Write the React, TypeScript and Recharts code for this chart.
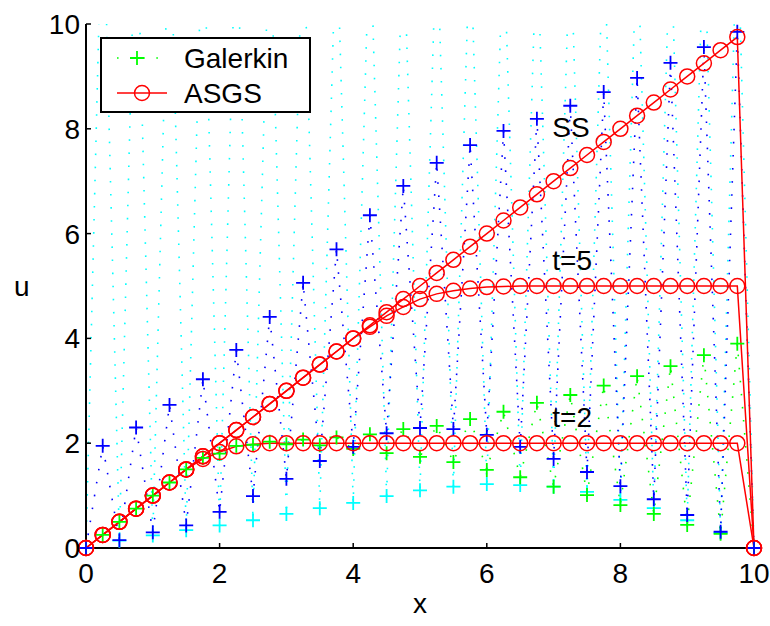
import React from "react";
import { LineChart, Line, XAxis, YAxis, ReferenceDot } from "recharts";

// node positions (h = 0.25)
const xNodes = [
  0, 0.25, 0.5, 0.75, 1, 1.25, 1.5, 1.75, 2, 2.25, 2.5, 2.75, 3, 3.25, 3.5, 3.75, 4, 4.25, 4.5, 4.75, 5,
  5.25, 5.5, 5.75, 6, 6.25, 6.5, 6.75, 7, 7.25, 7.5, 7.75, 8, 8.25, 8.5, 8.75, 9, 9.25, 9.5, 9.75, 10,
];

// Galerkin, t=2 (green)
const galerkinT2 = [
  0, 0.25, 0.5, 0.75, 1, 1.25, 1.5, 1.72, 1.8, 1.95, 1.97, 2.03, 1.98, 2.07, 1.96, 2.11, 1.89, 2.17, 1.81, 2.27, 1.74,
  2.33, 1.64, 2.46, 1.49, 2.6, 1.35, 2.77, 1.17, 2.92, 1.01, 3.1, 0.82, 3.28, 0.65, 3.47, 0.44, 3.68, 0.27, 3.9, 0,
];

// Galerkin, t=5 (cyan) - odd nodes lie above the axes
const galerkinT5 = [
  0, 13, 0.14, 12.8, 0.24, 12.6, 0.34, 12.4, 0.43, 12.3, 0.53, 12.2, 0.65, 12.1, 0.76, 12, 0.86, 12, 0.99, 11.9, 1.1,
  11.9, 1.17, 11.8, 1.22, 11.8, 1.2, 11.8, 1.17, 11.8, 1.07, 11.9, 0.92, 11.9, 0.76, 12, 0.53, 12.1, 0.29, 12.2, 0,
];

// Galerkin, steady state (blue)
const galerkinSS = [
  0, 1.95, 0.15, 2.3, 0.3, 2.73, 0.43, 3.22, 0.69, 3.78, 0.99, 4.41, 1.32, 5.06, 1.66, 5.7, 1.93, 6.35, 2.19, 6.91, 2.29,
  7.35, 2.27, 7.69, 2.16, 7.96, 1.93, 8.19, 1.7, 8.44, 1.45, 8.7, 1.18, 8.97, 0.93, 9.26, 0.63, 9.56, 0.31, 9.85, 0,
];

const asgsT2 = [
  0, 0.25, 0.5, 0.75, 1, 1.25, 1.5, 1.7, 1.83, 1.94, 1.98, 2, 2, 2, 2, 2, 2, 2, 2, 2, 2,
  2, 2, 2, 2, 2, 2, 2, 2, 2, 2, 2, 2, 2, 2, 2, 2, 2, 2, 2, 0,
];

const asgsT5 = [
  0, 0.25, 0.5, 0.75, 1, 1.25, 1.5, 1.75, 2, 2.25, 2.5, 2.75, 3, 3.25, 3.5, 3.75, 4, 4.22, 4.43, 4.6, 4.75,
  4.85, 4.91, 4.95, 4.98, 4.99, 5, 5, 5, 5, 5, 5, 5, 5, 5, 5, 5, 5, 5, 5, 0,
];

const asgsSS = [
  0, 0.25, 0.5, 0.75, 1, 1.25, 1.5, 1.75, 2, 2.25, 2.5, 2.75, 3, 3.25, 3.5, 3.75, 4, 4.25, 4.5, 4.75, 5,
  5.25, 5.5, 5.75, 6, 6.25, 6.5, 6.75, 7, 7.25, 7.5, 7.75, 8, 8.25, 8.5, 8.75, 9, 9.25, 9.5, 9.75, 0,
];

const xTicks = [0, 2, 4, 6, 8, 10];
const yTicks = [0, 2, 4, 6, 8, 10];
const legendNames = ["Galerkin", "ASGS"];
const curveLabels = [
  { text: "SS", x: 6.98, y: 7.84 },
  { text: "t=5", x: 6.98, y: 5.3 },
  { text: "t=2", x: 6.98, y: 2.31 },
];

const rows = xNodes.map((x, i) => ({
  x,
  g2: galerkinT2[i],
  g5: galerkinT5[i],
  gs: galerkinSS[i],
  a2: asgsT2[i],
  a5: asgsT5[i],
  as: asgsSS[i],
}));

const FONT = "'Liberation Sans', Arial, Helvetica, sans-serif";
const tickStyle = { fill: "#000", fontSize: 28, fontFamily: FONT };
const DOTTED = "1.6 11.5";

const plusDot = (color: string) => (props: any) => {
  const { cx, cy, index } = props;
  if (cx == null || cy == null) return <g key={index} />;
  return (
    <path
      key={index}
      d={`M${cx - 7},${cy}H${cx + 7}M${cx},${cy - 7}V${cy + 7}`}
      stroke={color}
      strokeWidth={1.8}
      fill="none"
      strokeDasharray="none"
    />
  );
};

const circleDot = { r: 7.5, stroke: "#ff0000", strokeWidth: 1.5, fill: "none" };

export default function App() {
  return (
    <div style={{ position: "absolute", left: 0, top: 0, width: 770, height: 626, background: "#fff" }}>
      <LineChart width={770} height={626} data={rows} margin={{ top: 24, right: 16, bottom: 0, left: 0 }}>
        <XAxis
          dataKey="x"
          type="number"
          domain={[0, 10]}
          ticks={xTicks}
          height={78}
          tickSize={-5}
          tickMargin={20}
          tick={tickStyle}
          axisLine={{ stroke: "#000", strokeWidth: 2 }}
          tickLine={{ stroke: "#000", strokeWidth: 1.5 }}
          label={{ value: "x", position: "insideBottom", offset: 13, style: { fill: "#000", fontSize: 28, fontFamily: FONT } }}
        />
        <XAxis
          xAxisId="top"
          dataKey="x"
          type="number"
          orientation="top"
          domain={[0, 10]}
          ticks={xTicks}
          height={0}
          tickSize={-5}
          tick={false}
          axisLine={{ stroke: "#000", strokeWidth: 2 }}
          tickLine={{ stroke: "#000", strokeWidth: 1.5 }}
        />
        <YAxis
          type="number"
          domain={[0, 10]}
          ticks={yTicks}
          width={86}
          tickSize={-5}
          tickMargin={11}
          tick={tickStyle}
          axisLine={{ stroke: "#000", strokeWidth: 2 }}
          tickLine={{ stroke: "#000", strokeWidth: 1.5 }}
          label={{ value: "u", position: "insideLeft", offset: 14, style: { fill: "#000", fontSize: 28, fontFamily: FONT } }}
        />
        <YAxis
          yAxisId="right"
          orientation="right"
          type="number"
          domain={[0, 10]}
          ticks={yTicks}
          width={0}
          tickSize={-5}
          tick={false}
          axisLine={{ stroke: "#000", strokeWidth: 2 }}
          tickLine={{ stroke: "#000", strokeWidth: 1.5 }}
        />
        <YAxis yAxisId="clip" type="number" domain={[0, 10]} allowDataOverflow hide />

        <Line
          yAxisId="clip"
          dataKey="g5"
          type="linear"
          stroke="#00ffff"
          strokeWidth={1.6}
          strokeDasharray={DOTTED}
          dot={plusDot("#00ffff")}
          isAnimationActive={false}
        />
        <Line
          dataKey="g2"
          type="linear"
          stroke="#00ff00"
          strokeWidth={1.6}
          strokeDasharray={DOTTED}
          dot={plusDot("#00ff00")}
          isAnimationActive={false}
        />
        <Line
          dataKey="gs"
          type="linear"
          stroke="#0000ff"
          strokeWidth={1.6}
          strokeDasharray={DOTTED}
          dot={plusDot("#0000ff")}
          isAnimationActive={false}
        />
        <Line dataKey="a2" type="linear" stroke="#ff0000" strokeWidth={1.5} dot={circleDot} isAnimationActive={false} />
        <Line dataKey="a5" type="linear" stroke="#ff0000" strokeWidth={1.5} dot={circleDot} isAnimationActive={false} />
        <Line dataKey="as" type="linear" stroke="#ff0000" strokeWidth={1.5} dot={circleDot} isAnimationActive={false} />

        {curveLabels.map((l) => (
          <ReferenceDot
            key={l.text}
            x={l.x}
            y={l.y}
            r={0}
            shape={(p: any) => (
              <text x={p.cx} y={p.cy} fill="#000" fontSize={28} fontFamily={FONT}>
                {l.text}
              </text>
            )}
          />
        ))}
      </LineChart>

      <svg style={{ position: "absolute", left: 100, top: 37 }} width={211} height={76}>
        <rect x={1} y={1} width={209} height={74} fill="#fff" stroke="#000" strokeWidth={2} />
        <line x1={17} y1={21} x2={59} y2={21} stroke="#00ff00" strokeWidth={1.6} strokeDasharray={DOTTED} />
        <path d="M30,21H44M37,14V28" stroke="#00ff00" strokeWidth={1.8} fill="none" />
        <text x={84} y={31} fontSize={28} fontFamily={FONT} fill="#000">
          {legendNames[0]}
        </text>
        <line x1={17} y1={56} x2={67} y2={56} stroke="#ff0000" strokeWidth={1.5} />
        <circle cx={42} cy={56} r={7.5} stroke="#ff0000" strokeWidth={1.5} fill="none" />
        <text x={84} y={66} fontSize={28} fontFamily={FONT} fill="#000">
          {legendNames[1]}
        </text>
      </svg>
    </div>
  );
}
